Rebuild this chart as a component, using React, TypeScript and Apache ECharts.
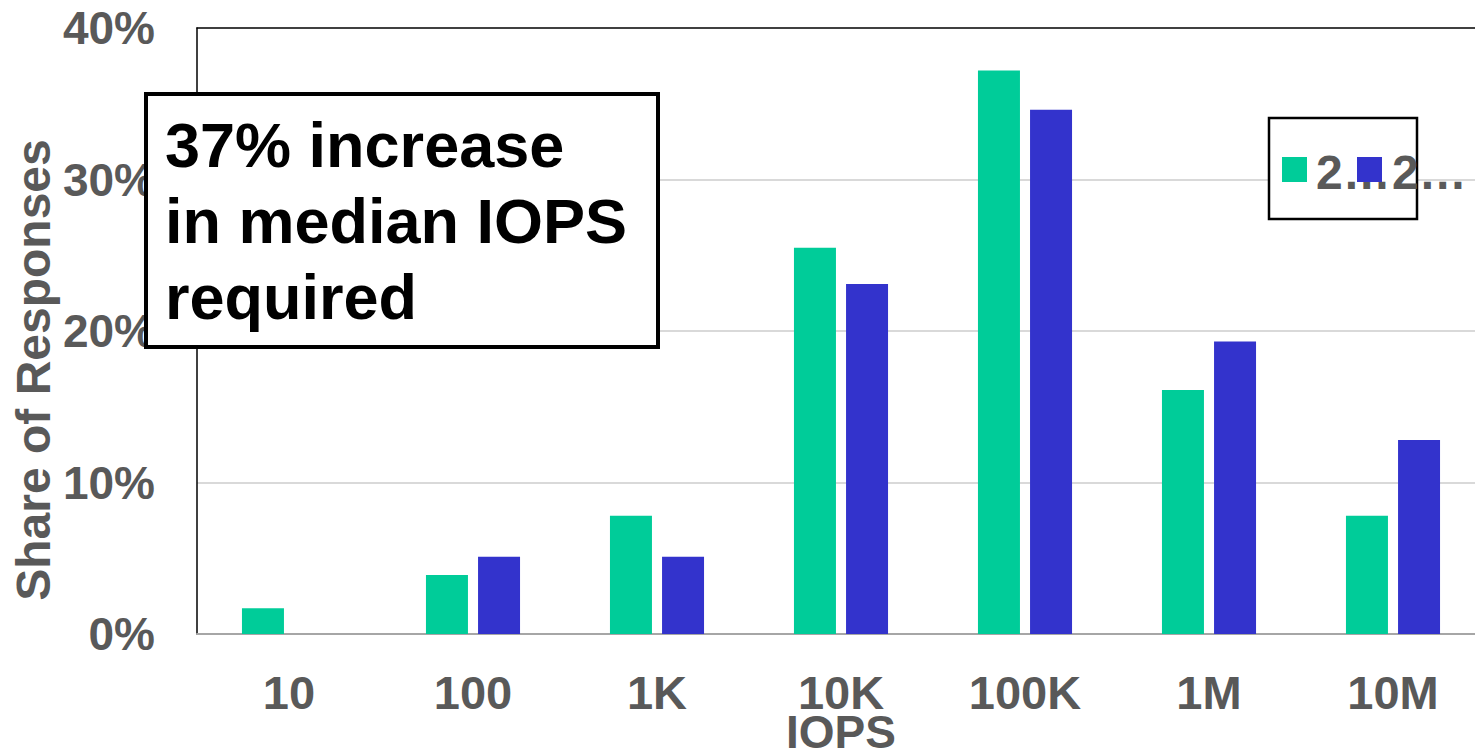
import { useEffect, useRef } from "react";
import * as echarts from "echarts";

// IOPS buckets and share of responses (%) for the two survey years
const categories = ["10", "100", "1K", "10K", "100K", "1M", "10M"];
const seriesGreen = [1.7, 3.9, 7.8, 25.5, 37.2, 16.1, 7.8];
const seriesBlue = [0, 5.1, 5.1, 23.1, 34.6, 19.3, 12.8];
const legendLabels = ["2…", "2…"];
const seriesColors = ["#00CC99", "#3333CC"];
const noteLines = ["37% increase", "in median IOPS", "required"];
const yAxisTitle = "Share of Responses";
const xAxisTitle = "IOPS";

const FONT = '"Liberation Sans", Arial, Helvetica, sans-serif';
const GRAY = "#595959";

export default function App() {
  const ref = useRef<HTMLDivElement>(null);

  useEffect(() => {
    if (!ref.current) return;
    const chart = echarts.init(ref.current, undefined, { renderer: "svg" });

    chart.setOption({
      animation: false,
      backgroundColor: "#ffffff",
      textStyle: { fontFamily: FONT },
      grid: {
        left: 197,
        top: 28,
        width: 1288,
        height: 606,
        containLabel: false,
        outerBoundsMode: "none",
      },
      xAxis: [
        {
          type: "category",
          data: categories,
          position: "bottom",
          axisLine: { show: true, lineStyle: { color: "#A6A6A6", width: 2 } },
          axisTick: { show: false },
          axisLabel: {
            color: GRAY,
            fontSize: 47,
            lineHeight: 36,
            fontWeight: "bold",
            fontFamily: FONT,
            margin: 40.5,
          },
          name: xAxisTitle,
          nameLocation: "middle",
          nameGap: 80,
          nameMoveOverlap: false,
          nameTextStyle: {
            color: GRAY,
            fontSize: 46,
            lineHeight: 36,
            fontWeight: "bold",
            fontFamily: FONT,
          },
          splitLine: { show: false },
        },
        {
          type: "category",
          data: categories,
          position: "top",
          axisLine: { show: true, lineStyle: { color: "#000000", width: 1.5 } },
          axisTick: { show: false },
          axisLabel: { show: false },
          splitLine: { show: false },
        },
      ],
      yAxis: {
        type: "value",
        min: 0,
        max: 40,
        interval: 10,
        axisLine: { show: true, lineStyle: { color: "#000000", width: 1.5 } },
        axisTick: { show: false },
        axisLabel: {
          formatter: "{value}%",
          color: GRAY,
          fontSize: 46,
          fontWeight: "bold",
          fontFamily: FONT,
          margin: 42,
        },
        splitLine: {
          show: true,
          showMinLine: false,
          showMaxLine: false,
          lineStyle: { color: "#D9D9D9", width: 2 },
        },
      },
      series: [
        {
          name: "green",
          type: "bar",
          data: seriesGreen,
          barWidth: 42,
          barGap: "24%",
          itemStyle: { color: seriesColors[0] },
        },
        {
          name: "blue",
          type: "bar",
          data: seriesBlue,
          barWidth: 42,
          barGap: "24%",
          itemStyle: { color: seriesColors[1] },
        },
      ],
      graphic: [
        // rotated y-axis title
        {
          type: "text",
          x: 33.5,
          y: 370,
          rotation: Math.PI / 2,
          z: 50,
          style: {
            text: yAxisTitle,
            fill: GRAY,
            font: `bold 48px ${FONT}`,
            align: "center",
            verticalAlign: "middle",
          },
        },
        // annotation box
        {
          type: "rect",
          z: 100,
          shape: { x: 146, y: 94, width: 512, height: 253 },
          style: { fill: "#ffffff", stroke: "#000000", lineWidth: 4 },
        },
        {
          type: "text",
          z: 101,
          x: 165,
          y: 220.5,
          style: {
            text: noteLines.join("\n"),
            fill: "#000000",
            font: `bold 63px ${FONT}`,
            lineHeight: 76,
            align: "left",
            verticalAlign: "middle",
          },
        },
        // legend box
        {
          type: "rect",
          z: 100,
          shape: { x: 1269, y: 118, width: 148, height: 101 },
          style: { fill: "#ffffff", stroke: "#000000", lineWidth: 2.5 },
        },
        {
          type: "rect",
          z: 101,
          shape: { x: 1282, y: 157, width: 25, height: 25 },
          style: { fill: seriesColors[0] },
        },
        {
          type: "text",
          z: 102,
          x: 1316,
          y: 172,
          style: {
            text: legendLabels[0],
            fill: GRAY,
            font: `bold 48px ${FONT}`,
            align: "left",
            verticalAlign: "middle",
          },
        },
        {
          type: "rect",
          z: 103,
          shape: { x: 1357, y: 157, width: 25, height: 25 },
          style: { fill: seriesColors[1] },
        },
        {
          type: "text",
          z: 104,
          x: 1392,
          y: 172,
          style: {
            text: legendLabels[1],
            fill: GRAY,
            font: `bold 48px ${FONT}`,
            align: "left",
            verticalAlign: "middle",
          },
        },
      ],
    });

    return () => chart.dispose();
  }, []);

  return (
    <div
      ref={ref}
      style={{ position: "fixed", left: 0, top: 0, width: 1475, height: 751 }}
    />
  );
}
